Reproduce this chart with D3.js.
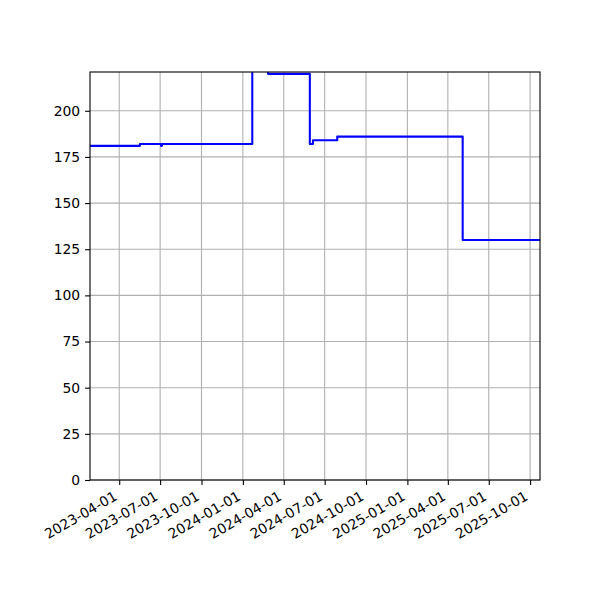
<!DOCTYPE html>
<html>
<head>
<meta charset="utf-8">
<script src="https://cdn.jsdelivr.net/npm/d3@7"></script>
<style>
  html, body { margin: 0; padding: 0; background: #fff; }
  text { font-family: "DejaVu Sans", sans-serif; }
</style>
</head>
<body>
<svg id="chart" width="600" height="600"></svg>
<script>
// Step-series values
const dates = ["2023-01-26","2023-05-17","2023-07-03","2023-07-05","2024-01-22","2024-02-26","2024-05-29","2024-06-05","2024-07-29","2025-05-04","2025-10-23"];
const values = [181, 182, 181, 182, 240, 220, 182, 184, 186, 130, 130];
const xTickLabels = ["2023-04-01","2023-07-01","2023-10-01","2024-01-01","2024-04-01","2024-07-01","2024-10-01","2025-01-01","2025-04-01","2025-07-01","2025-10-01"];
const yTickValues = [0, 25, 50, 75, 100, 125, 150, 175, 200];
const xDomain = ["2023-01-26", "2025-10-23"];
const yDomain = [0, 221];

const parse = d3.utcParse("%Y-%m-%d");
const data = dates.map((d, i) => ({ date: parse(d), value: values[i] }));

const margin = { left: 90, right: 60, top: 72, bottom: 120 };
const W = 600, H = 600;
const iw = W - margin.left - margin.right;
const ih = H - margin.top - margin.bottom;

const svg = d3.select("#chart");
svg.append("rect").attr("width", W).attr("height", H).attr("fill", "#fff");

const x = d3.scaleUtc().domain(xDomain.map(parse)).range([margin.left, margin.left + iw]);
const y = d3.scaleLinear().domain(yDomain).range([margin.top + ih, margin.top]);

const xTicks = xTickLabels.map(parse);
const fs = 13.9;
const tickLen = 4.9, pad = 4.9;
const lw = 1.1;

// grid
const grid = svg.append("g");
grid.selectAll("line.vx").data(xTicks).join("line")
  .attr("x1", d => x(d)).attr("x2", d => x(d))
  .attr("y1", margin.top).attr("y2", margin.top + ih)
  .attr("stroke", "#b0b0b0").attr("stroke-width", lw);
grid.selectAll("line.hy").data(yTickValues).join("line")
  .attr("class", "hy")
  .attr("x1", margin.left).attr("x2", margin.left + iw)
  .attr("y1", d => y(d)).attr("y2", d => y(d))
  .attr("stroke", "#b0b0b0").attr("stroke-width", lw);

// clip
svg.append("clipPath").attr("id", "clip").append("rect")
  .attr("x", margin.left).attr("y", margin.top).attr("width", iw).attr("height", ih);

const line = d3.line().x(d => x(d.date)).y(d => y(d.value)).curve(d3.curveStepAfter);
svg.append("path").datum(data)
  .attr("clip-path", "url(#clip)")
  .attr("d", line)
  .attr("fill", "none").attr("stroke", "#0000ff").attr("stroke-width", 2.08)
  .attr("stroke-linejoin", "round").attr("stroke-linecap", "square");

// x axis
const xAxis = d3.axisBottom(x).tickValues(xTicks).tickSize(tickLen).tickFormat(d3.utcFormat("%Y-%m-%d"));
const gx = svg.append("g").attr("transform", `translate(0,${margin.top + ih})`).call(xAxis);
gx.select(".domain").remove();
gx.selectAll(".tick line").attr("stroke", "#000").attr("stroke-width", lw);
gx.selectAll(".tick text")
  .attr("font-size", fs).attr("fill", "#000")
  .attr("text-anchor", "end")
  .attr("y", 0).attr("dy", 0)
  .attr("transform", `translate(-1.6, ${tickLen + pad + 0.866 * 10.6}) rotate(-30)`);

// y axis
const yAxis = d3.axisLeft(y).tickValues(yTickValues).tickSize(tickLen).tickPadding(pad);
const gy = svg.append("g").attr("transform", `translate(${margin.left},0)`).call(yAxis);
gy.select(".domain").remove();
gy.selectAll(".tick line").attr("stroke", "#000").attr("stroke-width", lw);
gy.selectAll(".tick text").attr("font-size", fs).attr("fill", "#000");

// spines
svg.append("rect")
  .attr("x", margin.left).attr("y", margin.top).attr("width", iw).attr("height", ih)
  .attr("fill", "none").attr("stroke", "#000").attr("stroke-width", lw);
</script>
</body>
</html>
